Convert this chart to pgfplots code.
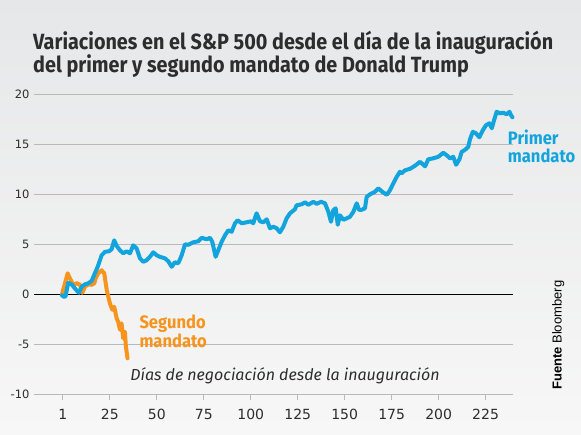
\documentclass[border=0pt]{standalone}
\usepackage{pgfplots}
\pgfplotsset{compat=1.18}
\usepackage{pgfplotstable}
\usepackage{fontspec}
\setmainfont{DejaVu Sans}
\newfontfamily\titlefont[FakeStretch=0.9]{Fira Sans}
\newfontfamily\labfont[FakeStretch=0.92]{Fira Sans}
\newfontfamily\itfont{Fira Sans}
\newfontfamily\srcfont{Liberation Sans}
\definecolor{tblue}{RGB}{18,164,221}
\definecolor{torange}{RGB}{247,148,30}
\definecolor{gridgrey}{RGB}{185,185,185}
\definecolor{titlegrey}{RGB}{45,45,45}
\definecolor{bgtop}{RGB}{230,231,232}
\definecolor{bgbot}{RGB}{247,247,247}

\pgfplotstableread{
d v
-0.6 -0.1
0.5 -0.25
1.4 -0.2
2.8 1.15
4.6 1.0
6.8 0.5
8.5 0.15
10.0 0.75
11.7 1.0
13.5 1.1
15.3 1.35
17.0 2.1
18.5 2.75
19.7 3.4
20.6 3.9
22.4 4.25
24.5 4.3
25.9 4.5
27.3 5.4
28.6 4.85
30.4 4.4
32.1 4.1
33.9 4.3
35.7 4.1
37.4 4.9
39.2 4.6
41.0 3.6
42.8 3.25
44.5 3.4
46.3 3.75
48.1 4.2
49.9 3.9
51.6 3.75
54.3 3.6
56.1 3.3
57.9 2.75
59.6 3.2
61.4 3.1
63.2 3.9
65.0 5.0
66.7 4.95
69.4 5.2
72.0 5.3
73.9 5.65
76.5 5.5
78.3 5.65
79.5 5.25
81.3 3.75
82.7 4.4
84.5 5.25
86.3 5.9
88.0 6.4
89.8 6.25
91.6 7.1
93.0 7.4
95.2 7.1
97.8 7.2
100.1 7.3
101.3 7.1
103.1 8.1
104.9 7.3
106.7 7.2
108.5 7.5
110.2 6.6
112.0 6.75
113.8 6.6
115.5 6.2
117.3 6.75
119.1 7.6
120.9 8.1
123.5 8.5
124.4 8.9
127.1 9.0
128.9 9.2
130.6 8.95
133.3 9.25
135.1 9.05
137.4 9.25
139.5 9.1
141.3 8.25
142.7 7.25
143.9 8.4
145.2 8.6
146.3 6.95
147.5 7.9
149.3 7.45
151.1 7.6
152.8 7.75
154.6 8.25
156.4 9.1
157.6 8.45
159.0 8.45
160.8 8.6
161.7 9.75
163.5 10.0
166.1 10.25
167.9 10.6
170.0 10.25
172.4 9.95
174.1 10.4
175.9 11.1
177.7 11.75
179.4 12.25
180.3 12.1
182.1 12.4
184.8 12.55
187.4 12.85
190.1 13.25
192.8 12.8
194.5 13.5
197.2 13.6
199.8 13.75
202.5 14.15
204.3 13.9
206.1 13.6
207.8 13.75
209.3 12.95
211.1 13.5
212.3 14.25
214.1 14.45
215.8 14.75
216.7 15.5
218.2 16.25
219.9 16.1
221.7 15.7
223.5 16.4
225.2 16.9
227.0 17.1
228.3 16.6
229.5 17.4
230.9 18.25
232.7 18.1
234.5 18.15
236.2 18.0
237.7 18.25
238.6 17.9
239.3 17.7
}\primer

\pgfplotstableread{
d v
-0.4 0.1
1.1 1.1
2.5 2.1
3.7 1.6
5.5 0.95
7.3 1.1
9.1 0.95
10.3 0.15
11.7 0.75
13.5 1.0
15.3 0.95
16.7 1.1
17.4 1.6
18.8 2.1
20.6 2.4
22.0 2.1
23.3 0.45
24.1 -0.2
25.0 -0.9
26.3 -1.55
27.3 -1.25
28.6 -2.4
29.4 -2.75
30.4 -3.55
31.2 -2.9
32.1 -4.4
33.0 -3.75
33.5 -5.2
34.4 -6.4
}\segundo

\begin{document}
\begin{tikzpicture}[x=1pt,y=1pt]
\shade[top color=bgtop, bottom color=bgbot] (0,0) rectangle (581,434);
\useasboundingbox (0,0) rectangle (581,434);
\begin{axis}[
  at={(34pt,39.7pt)}, anchor=south west,
  scale only axis, width=479pt, height=300pt,
  xmin=-15.4, xmax=239.6, ymin=-10, ymax=20,
  axis line style={draw=none},
  xtick={0,25,...,225},
  xticklabels={1,25,50,75,100,125,150,175,200,225},
  ytick={-10,-5,0,5,10,15,20},
  yticklabels={-10,-5,0,5,10,15,20},
  xtick pos=bottom, ytick pos=left,
  tick align=outside,
  major tick length=6pt,
  xtick style={draw=gridgrey, line width=0.9pt},
  ytick style={draw=none},
  ymajorgrids,
  grid style={gridgrey, line width=0.9pt},
  extra y ticks={0},
  extra y tick labels={},
  extra y tick style={grid style={black, line width=1.1pt}},
  xticklabel style={font=\fontsize{14}{14}\selectfont, text=titlegrey, yshift=-5pt},
  yticklabel style={font=\fontsize{11.5}{12}\selectfont, text=titlegrey, xshift=5pt},
  clip=false,
]
\addplot[torange, line width=4pt, line join=round, line cap=round] table[x=d,y=v] {\segundo};
\addplot[tblue, line width=4pt, line join=round, line cap=round] table[x=d,y=v] {\primer};
\end{axis}
\node[anchor=base west, inner sep=0, font=\titlefont\bfseries\fontsize{22}{22}\selectfont, text=titlegrey] at (33,384.7) {Variaciones en el S\&P 500 desde el día de la inauguración};
\node[anchor=base west, inner sep=0, font=\titlefont\bfseries\fontsize{22}{22}\selectfont, text=titlegrey] at (33,361.3) {del primer y segundo mandato de Donald Trump};
\node[anchor=north west, inner sep=0, align=left, font=\labfont\bfseries\fontsize{18}{18.7}\selectfont, text=tblue] at (507.7,304.5) {Primer\\mandato};
\node[anchor=north west, inner sep=0, align=left, font=\labfont\bfseries\fontsize{18}{16}\selectfont, text=torange] at (139.3,119.5) {Segundo\\mandato};
\node[anchor=base, inner sep=0, font=\itfont\itshape\fontsize{16}{16}\selectfont, text=titlegrey] at (285,53.3) {Días de negociación desde la inauguración};
\node[rotate=90, anchor=base west, inner sep=0, font=\srcfont\fontsize{13}{13}\selectfont, text=black] at (561.7,44) {\textbf{Fuente}\ Bloomberg};
\end{tikzpicture}
\end{document}
